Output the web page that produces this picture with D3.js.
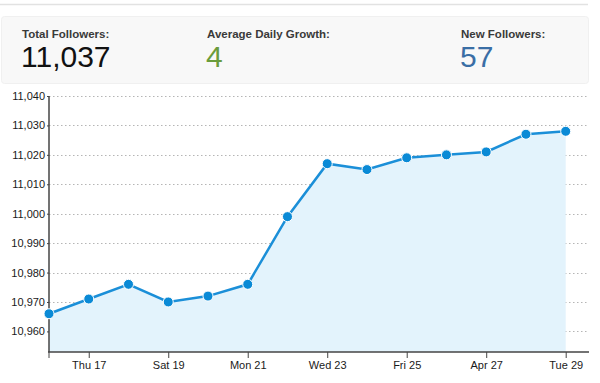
<!DOCTYPE html>
<html>
<head>
<meta charset="utf-8">
<script src="https://cdn.jsdelivr.net/npm/d3@7"></script>
<style>
  html, body { margin: 0; padding: 0; background: #fff; }
  svg { display: block; font-family: "Liberation Sans", Arial, Helvetica, sans-serif; }
</style>
</head>
<body>
<svg id="chart" width="600" height="383"></svg>
<script>
// ---- data ----
const dates = ["2014-04-16","2014-04-17","2014-04-18","2014-04-19","2014-04-20","2014-04-21","2014-04-22",
               "2014-04-23","2014-04-24","2014-04-25","2014-04-26","2014-04-27","2014-04-28","2014-04-29"];
const followers = [10966, 10971, 10976, 10970, 10972, 10976, 10999, 11017, 11015, 11019, 11020, 11021, 11027, 11028];
const tickDates = ["2014-04-17","2014-04-19","2014-04-21","2014-04-23","2014-04-25","2014-04-27","2014-04-29"];
const tickLabels = ["Thu 17","Sat 19","Mon 21","Wed 23","Fri 25","Apr 27","Tue 29"];
const yTicks = [10960, 10970, 10980, 10990, 11000, 11010, 11020, 11030, 11040];
const statLabels = ["Total Followers:", "Average Daily Growth:", "New Followers:"];
const statValues = ["11,037", "4", "57"];
const statColors = ["#111111", "#6a9c3c", "#3a6ea5"];

const parse = d3.timeParse("%Y-%m-%d");
const data = dates.map((d, i) => ({ date: parse(d), value: followers[i] }));

const svg = d3.select("#chart");

// ---- header ----
svg.append("line").attr("x1", 0).attr("x2", 588).attr("y1", 4.5).attr("y2", 4.5)
  .attr("stroke", "#e2e2e2").attr("stroke-width", 1.5);
svg.append("rect").attr("x", 1.5).attr("y", 16.5).attr("width", 587).attr("height", 67)
  .attr("rx", 3).attr("fill", "#f8f8f8").attr("stroke", "#f0f0f0");
const statX = [22, 207, 461];
statLabels.forEach((t, i) => {
  svg.append("text").attr("x", statX[i]).attr("y", 37.5).text(t)
    .attr("font-size", 11.5).attr("font-weight", "bold").attr("fill", "#3a3a3a");
  svg.append("text").attr("x", statX[i] - 1).attr("y", 66.5).text(statValues[i])
    .attr("font-size", 30).attr("fill", statColors[i]);
});

// ---- scales ----
const x = d3.scaleTime().domain(d3.extent(data, d => d.date)).range([49, 565.7]);
const y = d3.scaleLinear().domain([10953, 11040]).range([352, 96]);

// gridlines
svg.append("g").selectAll("line").data(yTicks).join("line")
  .attr("x1", 49).attr("x2", 589)
  .attr("y1", d => Math.round(y(d)) + 0.5).attr("y2", d => Math.round(y(d)) + 0.5)
  .attr("stroke", "#b5b5b5").attr("stroke-width", 1).attr("stroke-dasharray", "1.5,2.5");

// area
const area = d3.area().x(d => x(d.date)).y0(y(10953)).y1(d => y(d.value));
svg.append("path").datum(data).attr("d", area).attr("fill", "#e3f3fc");

// axes
const xAxis = d3.axisBottom(x)
  .tickValues(tickDates.map(parse))
  .tickFormat((d, i) => tickLabels[i])
  .tickSize(6).tickPadding(3).tickSizeOuter(0);
const gx = svg.append("g").attr("transform", "translate(0,352)").call(xAxis);
gx.select(".domain").remove();
gx.append("line").attr("x1", 48).attr("x2", 589).attr("y1", 0).attr("y2", 0)
  .attr("stroke", "#444").attr("stroke-width", 1.5);
gx.append("line").attr("x1", 49).attr("x2", 49).attr("y1", 0).attr("y2", 6)
  .attr("stroke", "#444").attr("stroke-width", 1);
gx.selectAll(".tick line").attr("stroke", "#444");
gx.selectAll(".tick text").attr("font-size", 11).attr("fill", "#1a1a1a")
  .attr("font-family", "'Liberation Sans', Arial, sans-serif");

const yAxis = d3.axisLeft(y).tickValues(yTicks).tickFormat(d3.format(",")).tickSize(2).tickPadding(2).tickSizeOuter(0);
const gy = svg.append("g").attr("transform", "translate(49,0)").call(yAxis);
gy.select(".domain").remove();
gy.append("line").attr("x1", 0).attr("x2", 0).attr("y1", 96).attr("y2", 352)
  .attr("stroke", "#444").attr("stroke-width", 1.5);
gy.selectAll(".tick line").attr("stroke", "#444");
gy.selectAll(".tick text").attr("font-size", 11).attr("fill", "#1a1a1a")
  .attr("font-family", "'Liberation Sans', Arial, sans-serif");

// line
const line = d3.line().x(d => x(d.date)).y(d => y(d.value));
svg.append("path").datum(data).attr("d", line).attr("fill", "none")
  .attr("stroke", "#1b8fd8").attr("stroke-width", 2.5);

// dots
svg.append("g").selectAll("circle").data(data).join("circle")
  .attr("cx", d => x(d.date)).attr("cy", d => y(d.value)).attr("r", 5)
  .attr("fill", "#0a8ad6").attr("stroke", "#ffffff").attr("stroke-width", 1);
</script>
</body>
</html>
